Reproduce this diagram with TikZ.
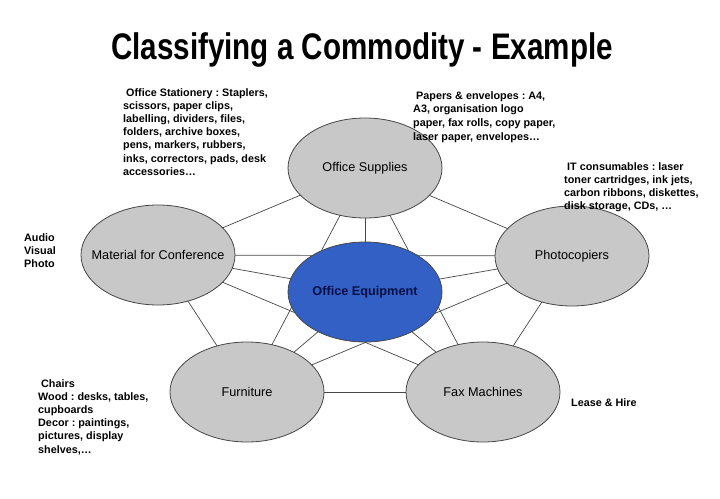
\documentclass[tikz,border=0pt]{standalone}
\usepackage{fontspec}
\setmainfont{Liberation Sans}
\newfontfamily\titlefont[FakeStretch=0.8]{Liberation Sans}
\usetikzlibrary{shapes.geometric,backgrounds}
\frenchspacing
\definecolor{bubblegray}{RGB}{200,200,200}
\definecolor{equipblue}{RGB}{50,96,196}
\definecolor{navytext}{RGB}{5,15,70}
\definecolor{linegray}{RGB}{70,70,70}
\tikzset{
	bubble/.style={ellipse, draw=linegray, line width=0.8pt, fill=bubblegray, minimum width=154pt, minimum height=100pt, inner sep=0pt},
	note/.style={anchor=north west, inner sep=0pt, align=left, font=\fontsize{10.8}{13.2}\selectfont\bfseries},
	link/.style={draw=linegray, line width=0.7pt}
}
\begin{document}
\begin{tikzpicture}[x=1pt, y=-1pt, font=\fontsize{12.7}{15}\selectfont, line join=round, line cap=round]
	\useasboundingbox (0,0) rectangle (720,498);
	\node[anchor=base] (title) at (362,59) {\titlefont\fontsize{37}{40}\selectfont\bfseries Classifying a Commodity - Example};
	% the six bubbles
	\node[bubble, label=center:Office Supplies] (sup) at (365,168) {};
	\node[bubble, label=center:Material for Conference] (conf) at (158,255) {};
	\node[bubble, label=center:Photocopiers] (photo) at (572,256) {};
	\node[bubble, label=center:Furniture] (furn) at (247,392) {};
	\node[bubble, label=center:Fax Machines] (fax) at (483,392) {};
	\node[bubble, fill=equipblue, label={[text=navytext, font=\fontsize{12.7}{15}\selectfont\bfseries]center:Office Equipment}] (equip) at (365,292) {};
	% every bubble linked to every other one
	\begin{scope}[on background layer]
		\foreach \a/\b in {sup/equip,sup/conf,sup/photo,sup/furn,sup/fax,conf/equip,conf/photo,conf/furn,conf/fax,photo/equip,photo/furn,photo/fax,furn/equip,furn/fax,fax/equip}
		\draw[link] (\a.center) -- (\b.center);
	\end{scope}
	% notes
	\node[note] (stat) at (123,88) {\hspace*{3pt}Office Stationery : Staplers,\\scissors, paper clips,\\labelling, dividers, files,\\folders, archive boxes,\\pens, markers, rubbers,\\inks, correctors, pads, desk\\accessories…};
	\node[note, font=\fontsize{10.8}{13.8}\selectfont\bfseries] (papers) at (413,91) {\hspace*{3pt}Papers \& envelopes : A4,\\A3, organisation logo\\paper, fax rolls, copy paper,\\laser paper, envelopes…};
	\node[note] (itc) at (564,162) {\hspace*{3pt}IT consumables : laser\\toner cartridges, ink jets,\\carbon ribbons, diskettes,\\disk storage, CDs, …};
	\node[note] (audio) at (24,233) {Audio\\Visual\\Photo};
	\node[note] (chairs) at (38,379) {\hspace*{3pt}Chairs\\Wood : desks, tables,\\cupboards\\Decor : paintings,\\pictures, display\\shelves,…};
	\node[note, anchor=west] (lease) at (571,403) {Lease \& Hire};
\end{tikzpicture}
\end{document}
